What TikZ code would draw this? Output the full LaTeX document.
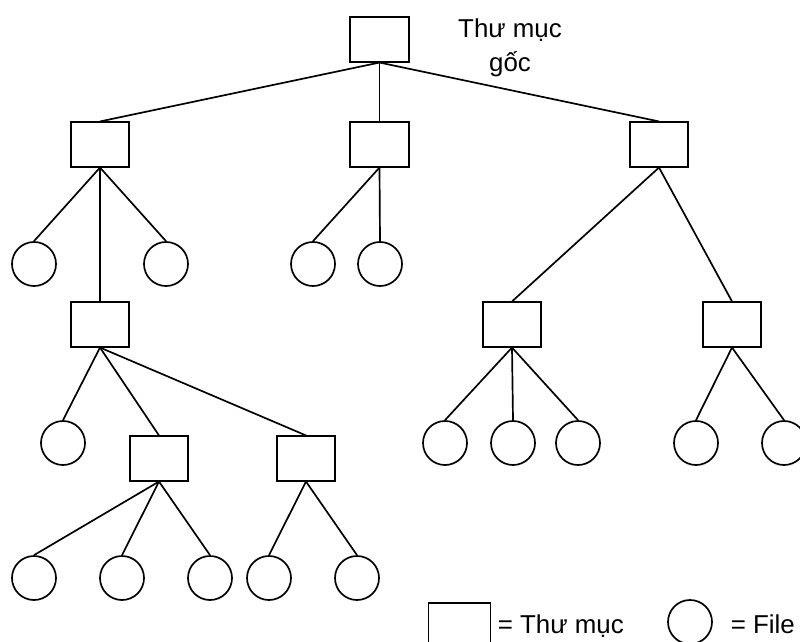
\documentclass[tikz,border=0pt]{standalone}
\usepackage{fontspec}
\setmainfont{Liberation Sans}
\usepackage{tikz}

\begin{document}
\begin{tikzpicture}[x=0.025cm,y=-0.025cm,line width=1.2pt,
  font=\fontsize{18.4}{24}\selectfont,
  folder/.style={draw,minimum width=1.46cm,minimum height=1.11cm,inner sep=0pt},
  file/.style={draw,circle,minimum size=1.1cm,inner sep=0pt},
  legendtext/.style={inner sep=0pt,anchor=base west}]
  \useasboundingbox (0,0) rectangle (800,642);
  % thu muc goc
  \node[folder] (root) at (379.5,39.5) {};
  \node[align=center,inner sep=0pt,anchor=north] (rootlbl) at (510,18) {Thư mục\\gốc};
  % cap 1
  \node[folder] (dA) at (100,144.5) {};
  \node[folder] (dB) at (379.5,144.5) {};
  \node[folder] (dC) at (659,144.5) {};
  \node[file] (fA1) at (34,264) {};
  \node[file] (fA2) at (166,264) {};
  \node[file] (fB1) at (313,264) {};
  \node[file] (fB2) at (380,264) {};
  % cap 2
  \node[folder] (dD) at (100,324.5) {};
  \node[folder] (dE) at (512,324.5) {};
  \node[folder] (dF) at (732,324.5) {};
  \node[file] (fD1) at (63,443) {};
  \node[file] (fE1) at (445,443) {};
  \node[file] (fE2) at (513,443) {};
  \node[file] (fE3) at (578,443) {};
  \node[file] (fF1) at (696,443) {};
  \node[file] (fF2) at (784,443) {};
  % cap 3
  \node[folder] (dG) at (159,458.5) {};
  \node[folder] (dH) at (306,458.5) {};
  \node[file] (fG1) at (34,578) {};
  \node[file] (fG2) at (122,578) {};
  \node[file] (fG3) at (210,578) {};
  \node[file] (fH1) at (269,578) {};
  \node[file] (fH2) at (357,578) {};
  % noi
  \draw (root.south) -- (dA.north);
  \draw (root.south) -- (dB.north);
  \draw (root.south) -- (dC.north);
  \draw (dA.south) -- (fA1.north);
  \draw (dA.south) -- (fA2.north);
  \draw (dA.south) -- (dD.north);
  \draw (dB.south) -- (fB1.north);
  \draw (dB.south) -- (fB2.north);
  \draw (dC.south) -- (dE.north);
  \draw (dC.south) -- (dF.north);
  \draw (dD.south) -- (fD1.north);
  \draw (dD.south) -- (dG.north);
  \draw (dD.south) -- (dH.north);
  \draw (dE.south) -- (fE1.north);
  \draw (dE.south) -- (fE2.north);
  \draw (dE.south) -- (fE3.north);
  \draw (dF.south) -- (fF1.north);
  \draw (dF.south) -- (fF2.north);
  \draw (dG.south) -- (fG1.north);
  \draw (dG.south) -- (fG2.north);
  \draw (dG.south) -- (fG3.north);
  \draw (dH.south) -- (fH1.north);
  \draw (dH.south) -- (fH2.north);
  % chu thich
  \node[folder,minimum width=1.55cm] (legdir) at (459.5,625.5) {};
  \node[legendtext] (legdirtxt) at (497,633) {= Thư mục};
  \node[file] (legfile) at (690,622) {};
  \node[legendtext] (legfiletxt) at (730,633) {= File};
\end{tikzpicture}
\end{document}
